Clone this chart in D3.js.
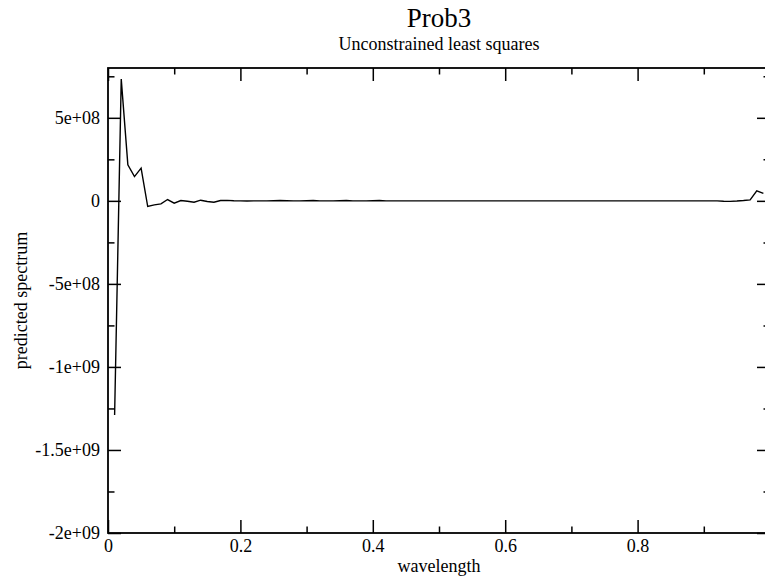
<!DOCTYPE html>
<html>
<head>
<meta charset="utf-8">
<script src="https://cdn.jsdelivr.net/npm/d3@7"></script>
<style>
  body { margin: 0; background: #fff; }
  text { font-family: "Liberation Serif", "Times New Roman", serif; fill: #000; }
</style>
</head>
<body>
<svg id="chart"></svg>
<script>
// wavelength grid and predicted spectrum
const wavelength = [
  0.01, 0.02, 0.03, 0.04, 0.05, 0.06, 0.07, 0.08, 0.09, 0.10,
  0.11, 0.12, 0.13, 0.14, 0.15, 0.16, 0.17, 0.18, 0.19, 0.20,
  0.21, 0.22, 0.23, 0.24, 0.25, 0.26, 0.27, 0.28, 0.29, 0.30,
  0.31, 0.32, 0.33, 0.34, 0.35, 0.36, 0.37, 0.38, 0.39, 0.40,
  0.41, 0.42, 0.43, 0.44, 0.45, 0.46, 0.47, 0.48, 0.49, 0.50,
  0.51, 0.52, 0.53, 0.54, 0.55, 0.56, 0.57, 0.58, 0.59, 0.60,
  0.61, 0.62, 0.63, 0.64, 0.65, 0.66, 0.67, 0.68, 0.69, 0.70,
  0.71, 0.72, 0.73, 0.74, 0.75, 0.76, 0.77, 0.78, 0.79, 0.80,
  0.81, 0.82, 0.83, 0.84, 0.85, 0.86, 0.87, 0.88, 0.89, 0.90,
  0.91, 0.92, 0.93, 0.94, 0.95, 0.96, 0.97, 0.98, 0.99
];
const spectrum = [
  -1.29e9, 7.33e8, 2.17e8, 1.46e8, 1.97e8, -3.4e7, -2.4e7, -1.8e7, 8e6, -1.4e7,
  2e6, -2e6, -8e6, 4e6, -4e6, -8e6, 2e6, 3e6, 1e6, 0,
  -1e6, 0, 0, 0, 1e6, 2e6, 1e6, 0, 0, 1e6,
  2e6, 0, 0, 0, 1e6, 2e6, 0, 0, 0, 1e6,
  2e6, 0, 0, 0, 0, 0, 0, 0, 0, 0,
  0, 0, 0, 0, 0, 0, 0, 0, 0, 0,
  0, 0, 0, 0, 0, 0, 0, 0, 0, 0,
  0, 0, 0, 0, 0, 0, 0, 0, 0, 0,
  0, 0, 0, 0, 0, 0, 0, 0, 0, 0,
  0, 0, -2e6, -3e6, -1e6, 2e6, 6e6, 6e7, 4.5e7
];

const xMajor = [0, 0.2, 0.4, 0.6, 0.8, 1.0];
const xMinor = [0.1, 0.3, 0.5, 0.7, 0.9];
// the label of the last tick falls outside the window, as in the original
const xLabels = ["0", "0.2", "0.4", "0.6", "0.8", ""];
const yMajor = [-2e9, -1.5e9, -1e9, -5e8, 0, 5e8];
const yMinor = [-1.75e9, -1.25e9, -7.5e8, -2.5e8, 2.5e8, 7.5e8];
const yLabels = ["-2e+09", "-1.5e+09", "-1e+09", "-5e+08", "0", "5e+08"];

const width = 765, height = 577;
const margin = { top: 68, right: -5, bottom: 44, left: 108 };
const svg = d3.select("#chart").attr("width", width).attr("height", height);

const x = d3.scaleLinear().domain([0, 1]).range([margin.left, width - margin.right]);
const y = d3.scaleLinear().domain([-2e9, 8e8]).range([height - margin.bottom, margin.top]);

const major = 13, minor = 6.5;

// bottom axis
svg.append("g")
   .attr("transform", `translate(0, ${y(-2e9)})`)
   .call(d3.axisBottom(x).tickValues(xMajor).tickSizeInner(-major).tickSizeOuter(0).tickPadding(6)
           .tickFormat((d, i) => xLabels[i]));
svg.append("g")
   .attr("transform", `translate(0, ${y(-2e9)})`)
   .call(d3.axisBottom(x).tickValues(xMinor).tickSizeInner(-minor).tickSizeOuter(0).tickFormat(""));
// top axis
svg.append("g")
   .attr("transform", `translate(0, ${y(8e8)})`)
   .call(d3.axisTop(x).tickValues(xMajor).tickSizeInner(-major).tickSizeOuter(0).tickFormat(""));
svg.append("g")
   .attr("transform", `translate(0, ${y(8e8)})`)
   .call(d3.axisTop(x).tickValues(xMinor).tickSizeInner(-minor).tickSizeOuter(0).tickFormat(""));
// left axis
svg.append("g")
   .attr("transform", `translate(${x(0)}, 0)`)
   .call(d3.axisLeft(y).tickValues(yMajor).tickSizeInner(-major).tickSizeOuter(0).tickPadding(8)
           .tickFormat((d, i) => yLabels[i]));
svg.append("g")
   .attr("transform", `translate(${x(0)}, 0)`)
   .call(d3.axisLeft(y).tickValues(yMinor).tickSizeInner(-minor).tickSizeOuter(0).tickFormat(""));
// right axis
svg.append("g")
   .attr("transform", `translate(${x(1)}, 0)`)
   .call(d3.axisRight(y).tickValues(yMajor).tickSizeInner(-major).tickSizeOuter(0).tickFormat(""));
svg.append("g")
   .attr("transform", `translate(${x(1)}, 0)`)
   .call(d3.axisRight(y).tickValues(yMinor).tickSizeInner(-minor).tickSizeOuter(0).tickFormat(""));

svg.selectAll(".domain").remove();
svg.selectAll(".tick line").attr("stroke", "#000").attr("stroke-width", 1.5);
svg.selectAll(".tick text").attr("font-size", 18).attr("font-family", "Liberation Serif");

// frame
svg.append("rect")
   .attr("x", x(0)).attr("y", y(8e8))
   .attr("width", x(1) - x(0)).attr("height", y(-2e9) - y(8e8))
   .attr("fill", "none").attr("stroke", "#000").attr("stroke-width", 1.8);

// data line
const line = d3.line()
               .x((d, i) => x(wavelength[i]))
               .y(d => y(d));
svg.append("path")
   .datum(spectrum)
   .attr("fill", "none")
   .attr("stroke", "#000")
   .attr("stroke-width", 1.4)
   .attr("d", line);

// titles
const cx = (x(0) + x(1)) / 2;
svg.append("text").attr("x", cx).attr("y", 27).attr("text-anchor", "middle")
   .attr("font-size", 27).text("Prob3");
svg.append("text").attr("x", cx).attr("y", 50).attr("text-anchor", "middle")
   .attr("font-size", 18).text("Unconstrained least squares");
svg.append("text").attr("x", cx).attr("y", 572).attr("text-anchor", "middle")
   .attr("font-size", 18).text("wavelength");
svg.append("text")
   .attr("transform", `translate(27, ${(y(8e8) + y(-2e9)) / 2}) rotate(-90)`)
   .attr("text-anchor", "middle")
   .attr("font-size", 18).text("predicted spectrum");
</script>
</body>
</html>
